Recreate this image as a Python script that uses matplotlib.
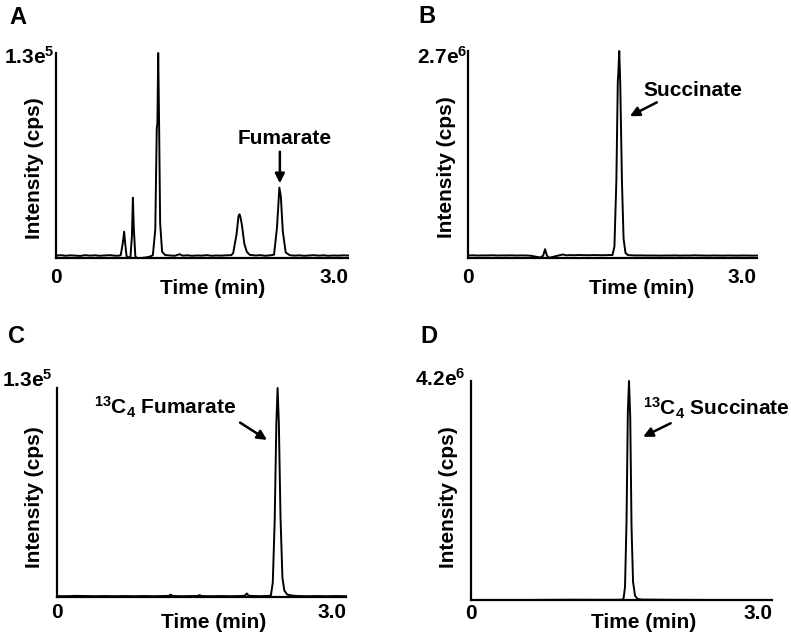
import matplotlib
matplotlib.use('Agg')
import matplotlib.pyplot as plt

plt.rcParams['font.family'] = 'Liberation Sans'
plt.rcParams['font.weight'] = 'bold'
plt.rcParams['mathtext.fontset'] = 'custom'
plt.rcParams['mathtext.rm'] = 'Liberation Sans:bold'
plt.rcParams['mathtext.it'] = 'Liberation Sans:bold'
plt.rcParams['mathtext.bf'] = 'Liberation Sans:bold'
plt.rcParams['mathtext.default'] = 'rm'

# ---- data (time in min, intensity in cps) ----
time_a = [0.00, 0.05, 0.10, 0.15, 0.20, 0.25, 0.30, 0.35, 0.40, 0.45,
          0.50, 0.55, 0.60, 0.64, 0.665, 0.685, 0.70, 0.712, 0.725, 0.745,
          0.765, 0.78, 0.79, 0.80, 0.815, 0.83, 0.88, 0.93, 0.97, 0.995,
          1.02, 1.035, 1.042, 1.05, 1.058, 1.07, 1.09, 1.12, 1.17, 1.22,
          1.27, 1.30, 1.35, 1.40, 1.45, 1.50, 1.55, 1.60, 1.65, 1.70,
          1.75, 1.80, 1.82, 1.855, 1.875, 1.885, 1.895, 1.91, 1.935, 1.96,
          1.99, 2.05, 2.10, 2.15, 2.20, 2.24, 2.27, 2.295, 2.31, 2.33,
          2.36, 2.40, 2.45, 2.50, 2.55, 2.60, 2.65, 2.70, 2.75, 2.80,
          2.85, 2.90, 2.95, 3.00]
int_a = [1500, 1800, 1400, 1700, 1500, 1300, 1800, 1500, 1700, 1400,
         1600, 1800, 1500, 1400, 1800, 9000, 16700, 8500, 1200, 300,
         900, 14000, 38200, 18000, 1200, 0, 0, 400, 1000, 1800,
         18000, 82000, 86000, 130000, 92000, 22000, 4000, 1900, 1600, 1400,
         2400, 1500, 1700, 1400, 1600, 1500, 1800, 1400, 1600, 1500,
         1700, 1800, 3000, 15000, 26500, 27700, 26000, 21000, 9000, 4000,
         2000, 1600, 1800, 1400, 1700, 2100, 19000, 44600, 39000, 17000,
         3500, 1800, 1500, 1700, 1400, 1600, 1800, 1500, 1700, 1400,
         1600, 1500, 1700, 1600]

time_b = [0.00, 0.05, 0.10, 0.15, 0.20, 0.25, 0.30, 0.35, 0.40, 0.45,
          0.50, 0.55, 0.60, 0.65, 0.70, 0.75, 0.78, 0.80, 0.82, 0.84,
          0.88, 0.93, 0.985, 1.02, 1.05, 1.10, 1.15, 1.20, 1.25, 1.30,
          1.35, 1.40, 1.45, 1.50, 1.52, 1.54, 1.555, 1.56, 1.57, 1.58,
          1.598, 1.615, 1.635, 1.66, 1.70, 1.75, 1.80, 1.85, 1.90, 1.95,
          2.00, 2.05, 2.10, 2.15, 2.20, 2.25, 2.30, 2.35, 2.40, 2.45,
          2.50, 2.55, 2.60, 2.65, 2.70, 2.75, 2.80, 2.85, 2.90, 2.95,
          3.00]
int_b = [33000, 35000, 32000, 34000, 33000, 36000, 32000, 34000, 33000, 35000,
         32000, 34000, 33000, 30000, 18000, 6000, 30000, 115000, 30000, 3000,
         14000, 30000, 46000, 34000, 38000, 36000, 39000, 37000, 36000, 38000,
         37000, 36000, 38000, 39000, 150000, 1000000, 2300000, 2400000, 2700000, 2300000,
         1000000, 250000, 65000, 38000, 35000, 33000, 34000, 32000, 33000, 32000,
         31000, 33000, 32000, 34000, 31000, 33000, 32000, 35000, 33000, 32000,
         31000, 33000, 32000, 31000, 33000, 32000, 31000, 33000, 32000, 31000,
         32000]

time_c = [0.00, 0.10, 0.20, 0.30, 0.40, 0.50, 0.60, 0.70, 0.80, 0.90,
          1.00, 1.10, 1.16, 1.18, 1.20, 1.30, 1.40, 1.46, 1.48, 1.50,
          1.60, 1.70, 1.80, 1.90, 1.95, 1.97, 1.99, 2.05, 2.10, 2.15,
          2.20, 2.22, 2.24, 2.26, 2.277, 2.29, 2.303, 2.32, 2.34, 2.36,
          2.39, 2.45, 2.50, 2.60, 2.70, 2.80, 2.90, 3.00]
int_c = [600, 500, 700, 600, 500, 600, 500, 600, 500, 600,
         500, 600, 700, 1500, 600, 500, 600, 600, 1200, 600,
         500, 600, 500, 600, 800, 2200, 800, 600, 500, 600,
         700, 900, 9000, 48000, 108000, 130000, 108000, 50000, 12000, 4000,
         1500, 800, 600, 500, 600, 500, 600, 500]

time_d = [0.00, 0.50, 1.00, 1.40, 1.50, 1.52, 1.535, 1.55, 1.563, 1.575,
          1.587, 1.60, 1.615, 1.635, 1.66, 1.70, 2.00, 2.50, 3.00]
int_d = [0, 0, 5000, 3000, 5000, 20000, 250000, 1500000, 3600000, 4200000,
         3500000, 1400000, 350000, 80000, 20000, 8000, 3000, 0, 0]

panel_letters = ['A', 'B', 'C', 'D']
y_max = [1.3e5, 2.7e6, 1.3e5, 4.2e6]
y_max_labels = ['1.3e$^{5}$', '2.7e$^{6}$', '1.3e$^{5}$', '4.2e$^{6}$']
peak_names = ['Fumarate', 'Succinate', '$^{13}$C$_{4}$ Fumarate', '$^{13}$C$_{4}$ Succinate']

# ---- layout (pixels of a 791x637 figure) ----
W, H = 791, 637
axes_px = [(56, 53, 348, 258), (468, 51, 757, 258),
           (57, 388, 346, 597), (471, 381, 772, 600)]
letter_px = [(9, 6), (418, 5), (8, 325), (420, 325)]
xtick_pad = [7, 7, 4.3, 3]
xlabel_x = [0.538, 0.60, 0.541, 0.572]
xlabel_dy = [-31, -31, -25, -23]
ylabel_y = [0.44, 0.44, 0.48, 0.47]
ymax_off = [(-1, -3.5), (-1, -6), (-4, 8.5), (-6, 2)]
# label position, arrow tail, arrow tip (data coords)
label_xy = [(2.35, 75500), (2.33, 2.19e6), (1.125, 117700), (2.445, 3.68e6)]
arrow_from = [(2.30, 67400), (1.96, 2.03e6), (1.90, 108500), (1.99, 3.39e6)]
arrow_to = [(2.30, 47400), (1.68, 1.85e6), (2.18, 97700), (1.715, 3.13e6)]

traces = [(time_a, int_a), (time_b, int_b), (time_c, int_c), (time_d, int_d)]

fig = plt.figure(figsize=(W / 100, H / 100), dpi=100)

for i, (t, y) in enumerate(traces):
    x0, y0, x1, y1 = axes_px[i]
    ax = fig.add_axes([x0 / W, 1 - y1 / H, (x1 - x0) / W, (y1 - y0) / H])
    ax.plot(t, y, color='black', lw=1.4, clip_on=False)
    ax.set_xlim(0, 3.0)
    ax.set_ylim(0, y_max[i])
    for s in ['top', 'right']:
        ax.spines[s].set_visible(False)
    for s in ['left', 'bottom']:
        ax.spines[s].set_linewidth(1.6)

    ax.set_xticks([0, 3.0], ['0', '3.0'])
    ax.get_xticklabels()[1].set_ha('right')
    ax.set_yticks([])
    ax.tick_params(length=0, labelsize=15)
    ax.tick_params(axis='x', pad=xtick_pad[i])

    ax.annotate(y_max_labels[i], xy=(0, 1), xycoords='axes fraction',
                xytext=ymax_off[i], textcoords='offset pixels',
                ha='right', va='center', fontsize=15)
    ax.annotate('Time (min)', xy=(xlabel_x[i], 0), xycoords='axes fraction',
                xytext=(0, xlabel_dy[i]), textcoords='offset pixels',
                ha='center', va='center', fontsize=15)
    ax.annotate('Intensity (cps)', xy=(0, ylabel_y[i]), xycoords='axes fraction',
                xytext=(-22, 0), textcoords='offset pixels',
                ha='center', va='center', rotation=90, fontsize=15)

    ax.text(label_xy[i][0], label_xy[i][1], peak_names[i],
            ha='center', va='center', fontsize=15)
    ax.annotate('', xy=arrow_to[i], xytext=arrow_from[i],
                arrowprops=dict(arrowstyle='-|>', color='black', lw=1.8,
                                mutation_scale=14, shrinkA=0, shrinkB=0))

    lx, ly = letter_px[i]
    fig.text(lx / W, 1 - ly / H, panel_letters[i], ha='left', va='top',
             fontsize=17, fontweight='bold')

fig.savefig('out.png', dpi=100)
